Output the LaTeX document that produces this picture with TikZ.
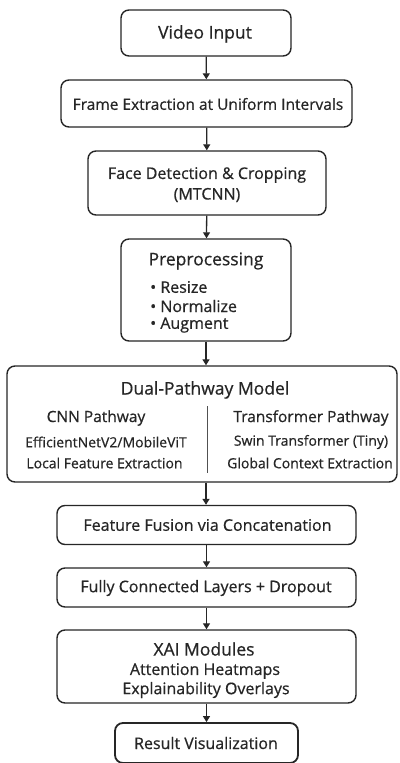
\documentclass[tikz,border=0pt]{standalone}
\usepackage{fontspec}
\setmainfont{Open Sans}[FakeBold=0.6]
\usetikzlibrary{arrows.meta}
\definecolor{ink}{HTML}{262626}
\tikzset{
  box/.style={draw=ink, line width=1.4pt, rounded corners=8pt, fill=white, inner sep=0pt},
  flow/.style={draw=ink, line width=1.3pt, -{Triangle[length=6pt,width=7pt]}},
  ttl/.style={text=ink, font=\fontsize{17.5}{20}\selectfont, inner sep=0pt},
  txt/.style={text=ink, font=\fontsize{16}{18}\selectfont, inner sep=0pt},
  sml/.style={text=ink, font=\fontsize{14}{16}\selectfont, inner sep=0pt},
}
\begin{document}
\begin{tikzpicture}[x=1pt, y=-1pt]
  \useasboundingbox (0,0) rectangle (399,763);

  % boxes
  \node[box, minimum width=170pt, minimum height=46pt] (vid) at (206,33) {};
  \node[box, minimum width=291pt, minimum height=47pt] (frm) at (206.5,103.5) {};
  \node[box, minimum width=238pt, minimum height=64pt] (face) at (207,183) {};
  \node[box, minimum width=170pt, minimum height=102pt] (pre) at (206,290) {};
  \node[box, minimum width=390pt, minimum height=116pt] (dual) at (202,424) {};
  \node[box, minimum width=299pt, minimum height=39pt] (fus) at (206.5,525) {};
  \node[box, minimum width=299pt, minimum height=39pt] (fc) at (206.5,587.5) {};
  \node[box, minimum width=299pt, minimum height=73pt] (xai) at (206.5,666.5) {};
  \node[box, line width=1.8pt, minimum width=183pt, minimum height=40pt] (res) at (206.5,743) {};

  % texts
  \node[ttl] (tvid) at (205,34) {Video Input};
  \node[txt, font=\fontsize{15.5}{18}\selectfont] (tfrm) at (208,104) {Frame Extraction at Uniform Intervals};
  \node[txt] (tface1) at (207,175) {Face Detection \& Cropping};
  \node[txt] (tface2) at (207,195) {(MTCNN)};
  \node[ttl] (tpre) at (206,261) {Preprocessing};
  \node[txt, anchor=west] (tp1) at (150,287) {\textbullet\ Resize};
  \node[txt, anchor=west] (tp2) at (150,306) {\textbullet\ Normalize};
  \node[txt, anchor=west] (tp3) at (150,325) {\textbullet\ Augment};
  \node[ttl] (tdual) at (205,390) {Dual-Pathway Model};
  \node[txt, font=\fontsize{15.5}{18}\selectfont] (tcnn) at (96,418) {CNN Pathway};
  \node[sml] (tcnn1) at (106,442) {EfficientNetV2/MobileViT};
  \node[sml] (tcnn2) at (104.5,463) {Local Feature Extraction};
  \node[txt, font=\fontsize{15.5}{18}\selectfont] (ttr) at (311,418) {Transformer Pathway};
  \node[sml] (ttr1) at (311,442) {Swin Transformer (Tiny)};
  \node[sml] (ttr2) at (310,463) {Global Context Extraction};
  \coordinate (divtop) at (207,406);
  \coordinate (divbot) at (207,473);
  \draw[draw=ink!80, line width=0.9pt] (divtop) -- (divbot);
  \node[txt] (tfus) at (207.5,525) {Feature Fusion via Concatenation};
  \node[txt] (tfc) at (206,588) {Fully Connected Layers + Dropout};
  \node[ttl] (txai) at (204,649) {XAI Modules};
  \node[txt] (txai1) at (205,671) {Attention Heatmaps};
  \node[txt] (txai2) at (206,690) {Explainability Overlays};
  \node[txt] (tres) at (206,743) {Result Visualization};

  % connectors
  \draw[flow] (vid) -- (frm);
  \draw[flow] (frm) -- (face);
  \draw[flow] (face) -- (pre);
  \draw[flow] (pre.south) -- (pre.south |- dual.north);
  \draw[flow] (dual.south -| pre.south) -- (fus.north -| pre.south);
  \draw[flow] (fus) -- (fc);
  \draw[flow] (fc) -- (xai);
  \draw[flow] (xai) -- (res);
\end{tikzpicture}
\end{document}
